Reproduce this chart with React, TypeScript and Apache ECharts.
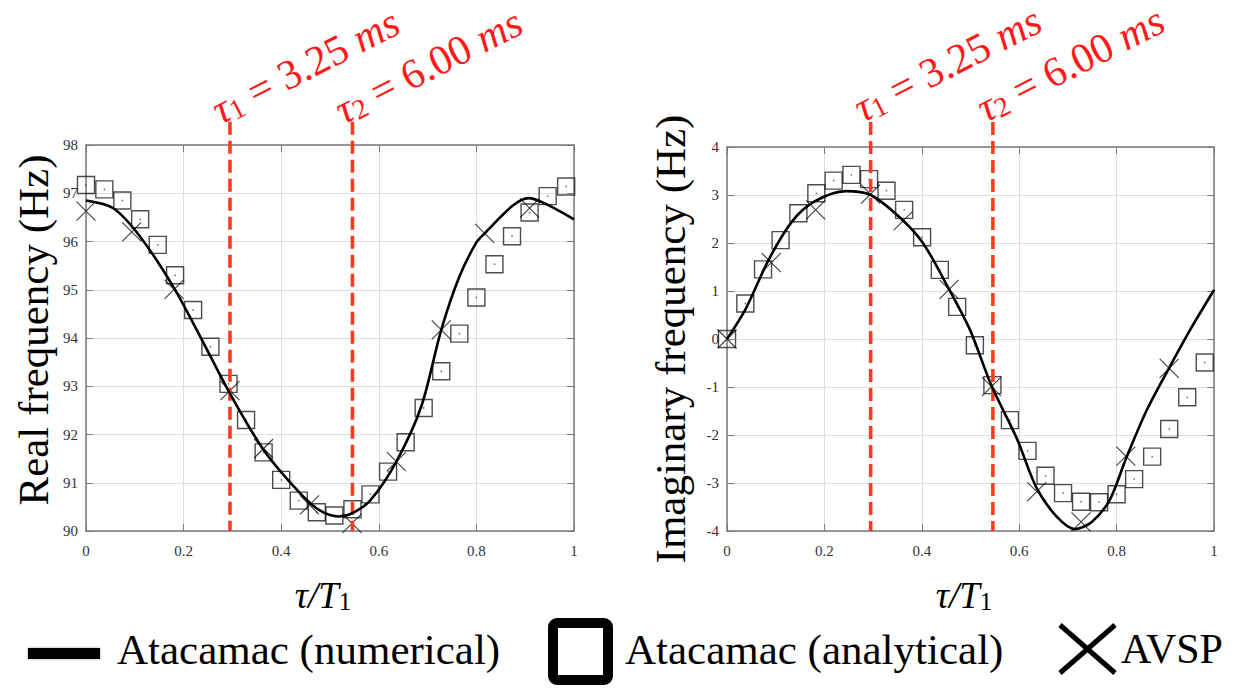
import React, { useEffect, useRef } from 'react';
import * as echarts from 'echarts';

const FONT = 'Liberation Serif';

// ---- Left plot: Real frequency (Hz) ----
const numXL = [0, 0.056, 0.111, 0.179, 0.234, 0.295, 0.364, 0.439, 0.48, 0.518, 0.546, 0.583, 0.636, 0.687, 0.728, 0.765, 0.80, 0.817, 0.874, 0.907, 0.94, 1.0];
const numYL = [96.85, 96.69, 96.10, 95.06, 94.03, 92.85, 91.68, 90.78, 90.42, 90.30, 90.37, 90.64, 91.44, 92.58, 94.17, 95.27, 95.98, 96.17, 96.74, 96.90, 96.79, 96.46];

const anaXL = [0, 0.0376, 0.0745, 0.111, 0.147, 0.1826, 0.2195, 0.255, 0.292, 0.328, 0.364, 0.40, 0.436, 0.473, 0.509, 0.546, 0.583, 0.619, 0.655, 0.692, 0.728, 0.765, 0.80, 0.837, 0.873, 0.909, 0.946, 0.984];
const anaYL = [97.17, 97.08, 96.85, 96.46, 95.93, 95.30, 94.58, 93.82, 93.05, 92.30, 91.63, 91.06, 90.63, 90.39, 90.32, 90.45, 90.76, 91.23, 91.84, 92.55, 93.31, 94.09, 94.84, 95.53, 96.11, 96.60, 96.94, 97.14];

const avspXL = [0, 0.0937, 0.1805, 0.295, 0.364, 0.458, 0.545, 0.636, 0.728, 0.817, 0.909];
const avspYL = [96.63, 96.20, 95.01, 92.91, 91.71, 90.54, 90.16, 91.44, 94.17, 96.17, 96.69];

// ---- Right plot: Imaginary frequency (Hz) ----
const numXR = [0, 0.039, 0.0855, 0.133, 0.179, 0.244, 0.295, 0.355, 0.403, 0.456, 0.499, 0.543, 0.595, 0.636, 0.677, 0.7145, 0.749, 0.786, 0.819, 0.862, 0.908, 0.951, 1.0];
const numYR = [0, 0.64, 1.65, 2.44, 2.86, 3.08, 3.0, 2.53, 1.99, 1.035, 0.19, -0.97, -2.07, -3.11, -3.70, -3.96, -3.81, -3.35, -2.5, -1.48, -0.6, 0.19, 1.02];

const anaXR = [0, 0.0376, 0.074, 0.11, 0.1466, 0.1835, 0.219, 0.2555, 0.2917, 0.3275, 0.3637, 0.4006, 0.437, 0.4726, 0.509, 0.545, 0.581, 0.617, 0.654, 0.690, 0.727, 0.764, 0.80, 0.836, 0.873, 0.908, 0.945, 0.981];
const anaYR = [0, 0.74, 1.45, 2.06, 2.62, 3.035, 3.30, 3.42, 3.33, 3.09, 2.69, 2.12, 1.44, 0.67, -0.13, -0.96, -1.69, -2.33, -2.85, -3.21, -3.39, -3.40, -3.235, -2.92, -2.45, -1.875, -1.215, -0.49];

const avspXR = [0, 0.091, 0.182, 0.2946, 0.3616, 0.456, 0.543, 0.636, 0.727, 0.819, 0.908];
const avspYR = [0, 1.59, 2.69, 3.02, 2.46, 1.035, -0.99, -3.18, -3.81, -2.44, -0.61];

// ---- Time markers ----
const tauX = [0.295, 0.546];
const tauLabels = [['1', '3.25'], ['2', '6.00']];

const yRangeL = [90, 98, 98.48];
const yRangeR = [-4, 4, 4.52];

const legendLabels = ['Atacamac (numerical)', 'Atacamac (analytical)', 'AVSP'];

const zip = (xs: number[], ys: number[]) => xs.map((x, i) => [x, ys[i]]);

const frameColor = '#7a7a7a';
const RED = '#ff1a1a';

function xAxes(gridIndex: number) {
  const base = { gridIndex, type: 'value', min: 0, max: 1, interval: 0.2 };
  return [
    {
      ...base,
      position: 'bottom',
      axisLine: { show: true, onZero: false, lineStyle: { color: frameColor, width: 1.5 } },
      axisTick: { show: true, inside: true, length: 7, lineStyle: { color: frameColor } },
      axisLabel: { color: '#333', fontSize: 15, fontFamily: FONT, margin: 12 },
      splitLine: { show: true, lineStyle: { color: '#dedede', width: 1 } },
    },
    {
      ...base,
      position: 'top',
      axisLine: { show: true, onZero: false, lineStyle: { color: frameColor, width: 1.5 } },
      axisTick: { show: true, inside: true, length: 7, lineStyle: { color: frameColor } },
      axisLabel: { show: false },
      splitLine: { show: false },
    },
  ];
}

function yAxes(gridIndex: number, min: number, max: number) {
  const base = { gridIndex, type: 'value', min, max, interval: 1 };
  return [
    {
      ...base,
      position: 'left',
      axisLine: { show: true, onZero: false, lineStyle: { color: frameColor, width: 1.5 } },
      axisTick: { show: true, inside: true, length: 7, lineStyle: { color: frameColor } },
      axisLabel: { color: '#333', fontSize: 15, fontFamily: FONT, margin: 8 },
      splitLine: { show: true, lineStyle: { color: '#dedede', width: 1 } },
    },
    {
      ...base,
      position: 'right',
      axisLine: { show: true, onZero: false, lineStyle: { color: frameColor, width: 1.5 } },
      axisTick: { show: true, inside: true, length: 7, lineStyle: { color: frameColor } },
      axisLabel: { show: false },
      splitLine: { show: false },
    },
  ];
}

const crossPath = 'path://M0 0L10 10M10 0L0 10';

function plotSeries(axisIdx: number, numX: number[], numY: number[], anaX: number[], anaY: number[], avX: number[], avY: number[], yr: number[]) {
  const common = { xAxisIndex: axisIdx, yAxisIndex: axisIdx };
  const out: any[] = [
    {
      ...common,
      type: 'scatter',
      data: zip(anaX, anaY),
      symbol: 'rect',
      symbolSize: 17,
      itemStyle: { color: 'rgba(0,0,0,0)', borderColor: '#222', borderWidth: 1.4 },
      z: 2,
      silent: true,
    },
    {
      ...common,
      type: 'scatter',
      data: zip(anaX, anaY),
      symbol: 'circle',
      symbolSize: 1.6,
      itemStyle: { color: '#444' },
      z: 2,
      silent: true,
    },
    {
      ...common,
      type: 'scatter',
      data: zip(avX, avY),
      symbol: crossPath,
      symbolSize: 19,
      itemStyle: { color: 'rgba(0,0,0,0)', borderColor: '#111', borderWidth: 1.1 },
      z: 3,
      silent: true,
    },
  ];
  tauX.forEach((tx) => {
    out.push({
      ...common,
      type: 'line',
      data: [[tx, yr[2]], [tx, yr[0]]],
      symbol: 'none',
      clip: false,
      lineStyle: { color: '#ff3b1d', width: 3.6, type: [13, 6] },
      z: 4,
      silent: true,
    });
  });
  out.push({
    ...common,
    type: 'line',
    data: zip(numX, numY),
    symbol: 'none',
    smooth: 0.3,
    lineStyle: { color: '#000', width: 2.6 },
    z: 5,
    silent: true,
  });
  return out;
}

function tauText(x: number, y: number, idx: number) {
  const [sub, val] = tauLabels[idx];
  return {
    type: 'text',
    x,
    y,
    rotation: (27 * Math.PI) / 180,
    style: {
      text: `{t|τ}{s|${sub}}{n| = ${val} }{i|ms}`,
      align: 'left',
      verticalAlign: 'bottom',
      fontSize: 42,
      fontFamily: FONT,
      fill: RED,
      rich: {
        t: { fontSize: 42, lineHeight: 36, fontStyle: 'italic', fontFamily: FONT, fill: RED, verticalAlign: 'bottom' },
        s: { fontSize: 28, lineHeight: 20, fontFamily: FONT, fill: RED, verticalAlign: 'bottom' },
        n: { fontSize: 42, lineHeight: 36, fontFamily: FONT, fill: RED, verticalAlign: 'bottom' },
        i: { fontSize: 42, lineHeight: 36, fontStyle: 'italic', fontFamily: FONT, fill: RED, verticalAlign: 'bottom' },
      },
    },
    z: 10,
  };
}

function xTitle(x: number) {
  return {
    type: 'text',
    x,
    y: 595,
    style: {
      text: '{i|τ/T}{s|1}',
      align: 'center',
      verticalAlign: 'middle',
      fontSize: 37,
      fontFamily: FONT,
      fill: '#000',
      rich: {
        i: { fontSize: 37, fontStyle: 'italic', fontFamily: FONT, fill: '#000', verticalAlign: 'bottom' },
        s: { fontSize: 25, fontFamily: FONT, fill: '#000', verticalAlign: 'bottom' },
      },
    },
  };
}

function yTitle(x: number, y: number, text: string) {
  return {
    type: 'text',
    x,
    y,
    rotation: Math.PI / 2,
    style: {
      text,
      fontSize: 43,
      fontFamily: FONT,
      align: 'center',
      verticalAlign: 'middle',
      fill: '#000',
    },
  };
}

function legendText(x: number, text: string, size = 42) {
  return {
    type: 'text',
    x,
    y: 649,
    style: {
      text,
      fontSize: size,
      fontFamily: FONT,
      align: 'left',
      verticalAlign: 'middle',
      fill: '#000',
    },
  };
}

const option: any = {
  animation: false,
  backgroundColor: '#fff',
  grid: [
    { left: 86, top: 145, width: 488, height: 386 },
    { left: 727, top: 147, width: 487, height: 384 },
  ],
  xAxis: [...xAxes(0), ...xAxes(1)],
  yAxis: [...yAxes(0, yRangeL[0], yRangeL[1]), ...yAxes(1, yRangeR[0], yRangeR[1])],
  series: [
    ...plotSeries(0, numXL, numYL, anaXL, anaYL, avspXL, avspYL, yRangeL),
    ...plotSeries(2, numXR, numYR, anaXR, anaYR, avspXR, avspYR, yRangeR),
  ],
  graphic: [
    tauText(224, 131, 0),
    tauText(347, 131, 1),
    tauText(866, 129, 0),
    tauText(989, 129, 1),
    xTitle(323),
    xTitle(964),
    yTitle(33, 330, 'Real frequency (Hz)'),
    yTitle(670, 339, 'Imaginary frequency (Hz)'),
    // legend
    { type: 'rect', shape: { x: 28, y: 648, width: 72, height: 11 }, style: { fill: '#000', shadowBlur: 3, shadowColor: 'rgba(0,0,0,0.35)' } },
    legendText(117, legendLabels[0], 43),
    { type: 'rect', shape: { x: 553, y: 623, width: 55, height: 57, r: 4 }, style: { fill: 'none', stroke: '#000', lineWidth: 10 } },
    legendText(625, legendLabels[1], 43),
    { type: 'line', shape: { x1: 1060, y1: 625, x2: 1115, y2: 673 }, style: { stroke: '#000', lineWidth: 5 } },
    { type: 'line', shape: { x1: 1115, y1: 625, x2: 1060, y2: 673 }, style: { stroke: '#000', lineWidth: 5 } },
    legendText(1121, legendLabels[2], 42),
  ],
};

export default function App() {
  const ref = useRef<HTMLDivElement>(null);
  useEffect(() => {
    const chart = echarts.init(ref.current!, null, { renderer: 'svg' });
    chart.setOption(option);
    return () => chart.dispose();
  }, []);
  return (
    <div
      ref={ref}
      style={{ position: 'fixed', left: 0, top: 0, width: 1249, height: 692, background: '#fff' }}
    />
  );
}
